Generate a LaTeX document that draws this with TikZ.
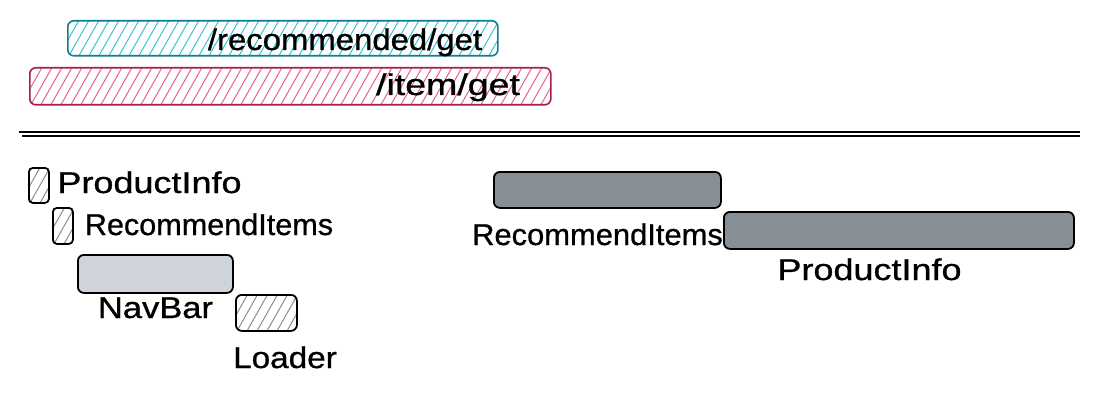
\documentclass[tikz,border=0pt]{standalone}
\usepackage{fontspec}
\usepackage{graphicx}
\setmainfont[FakeBold=0.8]{Liberation Sans}
\begin{document}
\begin{tikzpicture}[x=1pt,y=-1pt,
  hatch/.style={path picture={
    \foreach \k in {0,...,60}{
      \draw[#1,line width=1pt]
        ([xshift=\k*10pt-40pt,yshift=-2pt]path picture bounding box.south west) -- ++(26pt,46pt);
    }}},
  boxbase/.style={rounded corners=6pt,anchor=north west,inner sep=0pt},
  tealbox/.style={boxbase,draw=tealS,line width=1.6pt,hatch=tealH},
  pinkbox/.style={boxbase,draw=pinkS,line width=1.6pt,hatch=pinkH},
  graybox/.style={boxbase,draw=black,line width=1.8pt,hatch=grayH},
  lightbox/.style={boxbase,draw=black,line width=1.8pt,fill=lightF},
  darkbox/.style={boxbase,draw=black,line width=1.8pt,fill=darkF},
  lbl/.style={inner sep=0pt,anchor=base,font=\fontsize{30}{36}\selectfont,text=black},
  rule/.style={line width=1.6pt,black}]
\definecolor{tealS}{HTML}{0C7F90}
\definecolor{tealH}{HTML}{3BC4D6}
\definecolor{pinkS}{HTML}{A61E4D}
\definecolor{pinkH}{HTML}{E8648F}
\definecolor{grayH}{HTML}{868E96}
\definecolor{lightF}{HTML}{CED4DA}
\definecolor{darkF}{HTML}{868E96}
\useasboundingbox[fill=white] (0,0) rectangle (1100,401);

% request bars
\node[tealbox,minimum width=430pt,minimum height=35pt] (rec) at (67,20) {};
\node[pinkbox,minimum width=521pt,minimum height=37pt] (item) at (29,67) {};
\node[lbl] (recT) at (345,50) {\scalebox{1.096}[1]{/recommended/get}};
\node[lbl] (itemT) at (448,95) {\scalebox{1.25}[1]{/item/get}};

% double rule
\coordinate (r1a) at (19,132);
\coordinate (r1b) at (1080,132);
\coordinate (r2a) at (22,136);
\coordinate (r2b) at (1080,136);
\draw[rule] (r1a) -- (r1b);
\draw[rule] (r2a) -- (r2b);

% left: waterfall
\node[graybox,minimum width=20pt,minimum height=35pt,rounded corners=4pt] (pi) at (28,167) {};
\node[lbl] (piT) at (149.5,193) {\scalebox{1.2}[1]{ProductInfo}};
\node[graybox,minimum width=20pt,minimum height=36pt,rounded corners=4pt] (ri) at (52,207) {};
\node[lbl] (riT) at (209,235) {\scalebox{1.02}[1]{RecommendItems}};
\node[lightbox,minimum width=155pt,minimum height=38pt] (nav) at (77,254) {};
\node[lbl] (navT) at (155.5,318) {\scalebox{1.15}[1]{NavBar}};
\node[graybox,minimum width=61pt,minimum height=36pt] (ld) at (235,294) {};
\node[lbl] (ldT) at (285,368) {\scalebox{1.11}[1]{Loader}};

% right: loaded
\node[darkbox,minimum width=227pt,minimum height=36pt] (ri2) at (493,171) {};
\node[lbl] (ri2T) at (597.5,245) {\scalebox{1.03}[1]{RecommendItems}};
\node[darkbox,minimum width=350pt,minimum height=37pt] (pi2) at (723,211) {};
\node[lbl] (pi2T) at (869.5,280) {\scalebox{1.2}[1]{ProductInfo}};
\end{tikzpicture}
\end{document}
